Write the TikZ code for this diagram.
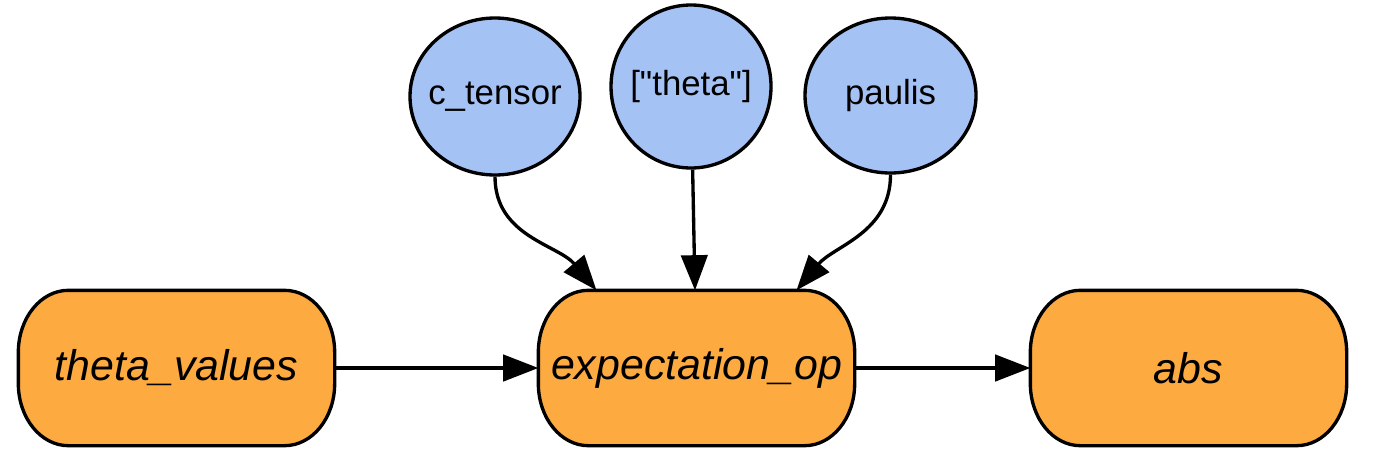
\documentclass[tikz,border=0pt]{standalone}
\usepackage{fontspec}
\setmainfont{Liberation Sans}
\newfontfamily\argfont{Liberation Sans}
\usetikzlibrary{shapes.geometric,arrows.meta,positioning,backgrounds}

\definecolor{opfill}{RGB}{253,170,64}
\definecolor{argfill}{RGB}{164,194,244}

% label of fixed width zero, so the ellipse keeps its size
\newcommand{\argtext}[1]{\makebox[0pt]{#1}}

\begin{document}
\begin{tikzpicture}[>={Triangle[length=10pt,width=7.5pt]}, line width=0.95pt,
  opnode/.style={minimum width=3.13cm, minimum height=1.52cm, inner sep=0pt,
    font=\fontsize{12.2}{14}\selectfont\itshape},
  opline/.style={draw, fill=opfill, line width=0.95pt},
  argnode/.style={ellipse, draw, fill=argfill, minimum width=1.7cm,
    minimum height=1.57cm, inner sep=0pt, font=\argfont\fontsize{9.9}{12}\selectfont}]

\useasboundingbox (0,0) rectangle (13.78,4.70);

% Parameters
\def\rx{0.5}
\def\ry{0.62}

% Operation nodes
\node[opnode] (tv) at (1.765,1.02) {theta\_values};
\node[opnode] (ex) at (6.965,1.02) {expectation\_op};
\node[opnode] (ab) at (11.885,1.02) {abs};

% Argument nodes
\node[argnode] (ct) at (4.95,3.735) {\argtext{c\_tensor}};
\node[argnode, minimum width=1.6cm, minimum height=1.63cm] (th) at (6.91,3.835) {\argtext{["theta"]}};
\node[argnode, minimum width=1.71cm, minimum height=1.55cm] (pa) at (8.905,3.745) {\argtext{paulis}};

% Outlines of the operation nodes
\begin{scope}[on background layer]
\foreach \n in {tv,ex,ab}
  \path[opline] ([xshift=\rx cm]\n.north west) -- ([xshift=-\rx cm]\n.north east)
    arc[start angle=90,end angle=0,x radius=\rx,y radius=\ry]
    -- ([yshift=\ry cm]\n.south east)
    arc[start angle=0,end angle=-90,x radius=\rx,y radius=\ry]
    -- ([xshift=\rx cm]\n.south west)
    arc[start angle=270,end angle=180,x radius=\rx,y radius=\ry]
    -- ([yshift=-\ry cm]\n.north west)
    arc[start angle=180,end angle=90,x radius=\rx,y radius=\ry] -- cycle;
\end{scope}

% Edges
\draw[->] (tv) -- (ex);
\draw[->] (ex) -- (ab);
\draw[->] (th) -- (ex);
\draw[->] (ct.south) to[out=-90,in=130] ([xshift=-1cm]ex.north);
\draw[->] (pa.south) to[out=-90,in=50] ([xshift=1cm]ex.north);

\end{tikzpicture}
\end{document}
